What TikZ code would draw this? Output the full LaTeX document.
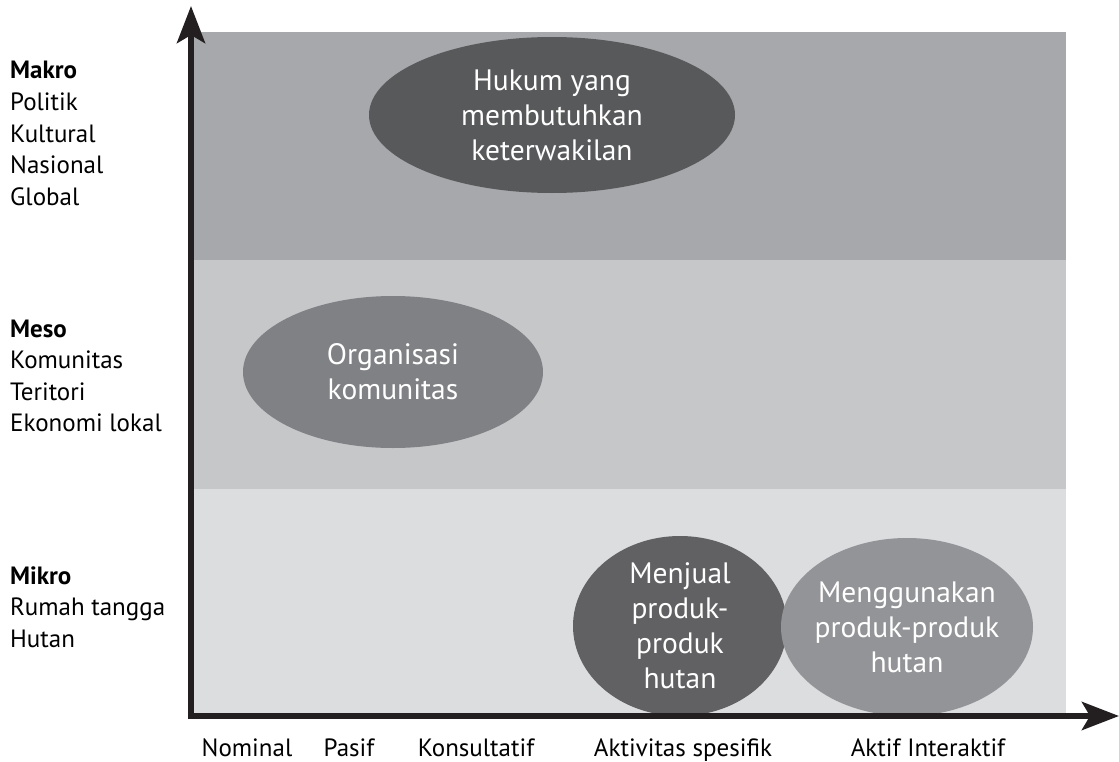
\documentclass[tikz,border=0pt]{standalone}
\usepackage{fontspec}
\setmainfont{PT Sans}
\usetikzlibrary{arrows.meta,shapes.geometric}
\definecolor{bandA}{HTML}{A7A8AB}
\definecolor{bandB}{HTML}{C6C7C9}
\definecolor{bandC}{HTML}{DCDDDF}
\definecolor{ellDark}{HTML}{58595B}
\definecolor{ellMid}{HTML}{808184}
\definecolor{ellJual}{HTML}{616163}
\definecolor{ellGuna}{HTML}{939497}
\definecolor{axisc}{HTML}{231F20}
\begin{document}
\begin{tikzpicture}[x=1bp,y=-1bp,
  blob/.style={ellipse, inner sep=-20bp, align=center, text=white,
    font=\fontsize{29.5bp}{35bp}\selectfont},
  side/.style={anchor=base west, inner sep=0pt,
    font=\fontsize{25bp}{30bp}\selectfont, text=black},
  tick/.style={anchor=base, inner sep=0pt,
    font=\fontsize{25bp}{28bp}\selectfont, text=black},
  axisline/.style={line width=6bp, draw=axisc,
    -{Stealth[length=37bp,width=28bp,inset=8bp]}}]
\useasboundingbox (0,0) rectangle (1119,762);
% bands
\fill[bandA] (194,32) rectangle (1066,260);
\fill[bandB] (194,260) rectangle (1066,489);
\fill[bandC] (194,489) rectangle (1066,714);
% ellipses
\node[blob, fill=ellDark, minimum width=366bp, minimum height=156bp] (hukum) at (552,115)
  {Hukum yang\\membutuhkan\\keterwakilan};
\node[blob, fill=ellMid, minimum width=300bp, minimum height=152bp] (org) at (393,372)
  {Organisasi\\komunitas};
\node[blob, fill=ellJual, minimum width=214bp, minimum height=180bp] (jual) at (680,626)
  {Menjual\\produk-\\produk\\hutan};
\node[blob, fill=ellGuna, minimum width=252bp, minimum height=178bp] (guna) at (907,627)
  {Menggunakan\\produk-produk\\hutan};
% axes
\coordinate (oy) at (191,719);
\coordinate (ox) at (188,716);
\coordinate (ytip) at (191,6);
\coordinate (xtip) at (1119,716);
\draw[axisline] (oy) -- (ytip);
\draw[axisline] (ox) -- (xtip);
% left labels
\node[side] (ma) at (10,79)    {\textbf{Makro}};
\node[side] (ma1) at (10,110.5) {Politik};
\node[side] (ma2) at (10,142)   {Kultural};
\node[side] (ma3) at (10,173.5) {Nasional};
\node[side] (ma4) at (10,205)   {Global};
\node[side] (me) at (10,337)    {\textbf{Meso}};
\node[side] (me1) at (10,368.5) {Komunitas};
\node[side] (me2) at (10,400)   {Teritori};
\node[side] (me3) at (10,431.5) {Ekonomi lokal};
\node[side] (mi) at (10,584)    {\textbf{Mikro}};
\node[side] (mi1) at (10,615.5) {Rumah tangga};
\node[side] (mi2) at (10,647)   {Hutan};
% bottom labels
\node[tick] (t1) at (247,756) {Nominal};
\node[tick] (t2) at (349,756) {Pasif};
\node[tick] (t3) at (476,756) {Konsultatif};
\node[tick] (t4) at (683,756) {Aktivitas spesifik};
\node[tick] (t5) at (928,756) {Aktif Interaktif};
\end{tikzpicture}
\end{document}
